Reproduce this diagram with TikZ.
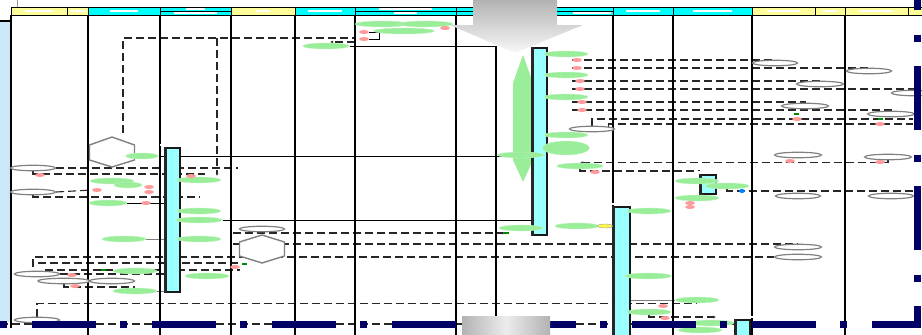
\documentclass[tikz,border=0pt]{standalone}
\usetikzlibrary{shapes.geometric,arrows.meta,backgrounds}

\definecolor{hdyellow}{HTML}{FFFF99}
\definecolor{hdcyan}{HTML}{00FFFF}
\definecolor{barcyan}{HTML}{99FFFF}
\definecolor{msggreen}{HTML}{9AEE9A}
\definecolor{tagpink}{HTML}{FF9A9A}
\definecolor{stripblue}{HTML}{CCE8F8}
\definecolor{navyband}{HTML}{000066}
\newcommand{\tinyf}{\fontsize{3.3pt}{3.6pt}\selectfont}

\begin{document}
\begin{tikzpicture}[x=1pt, y=-1pt,
    hy/.style={rectangle, draw, line width=0.9pt, fill=hdyellow, minimum height=8pt, inner sep=0pt},
    hc/.style={rectangle, draw, line width=0.9pt, fill=hdcyan, minimum height=8pt, inner sep=0pt},
    hl/.style={fill=white, inner sep=0.4pt, font=\tinyf, text=black!75},
    ntxt/.style={inner sep=0pt, font=\tinyf, text=black!65},
    lane/.style={draw, line width=1.1pt},
    msg/.style={ellipse, fill=msggreen, draw=msggreen!60!white, minimum width=44pt, minimum height=6pt, inner sep=0pt, font=\tinyf, text=black!65},
    note/.style={ellipse, draw=black!50, line width=1.2pt, fill=white, minimum width=45pt, minimum height=5.5pt, inner sep=0pt, font=\tinyf, text=black!65},
    tag/.style={ellipse, fill=tagpink, minimum width=10pt, minimum height=4pt, inner sep=0pt},
    flag/.style={rectangle, fill=green!55!black, minimum width=5pt, minimum height=2pt, inner sep=0pt},
    bar/.style={rectangle, draw=black!90, line width=1.5pt, fill=barcyan, minimum width=15pt, inner sep=0pt},
    call/.style={draw=black!85, dash pattern=on 8pt off 4pt, line width=1.1pt},
    line/.style={draw, line width=0.8pt},
    arr/.style={-{Latex[length=3pt,width=3pt]}},
    hexline/.style={draw=black!50, line width=1.4pt}
]
    \useasboundingbox (0,0) rectangle (922,335);
    \clip (0,0) rectangle (922,335);

    % left strip
    \fill[stripblue] (0,21) rectangle (10,322);
    \draw[line width=2pt] (0,21) -- (10,21);
    \draw[black!40, line width=1pt] (17,0) -- (17,7);

    % lanes
    \draw[lane] (11,15) -- (11,328);
    \draw[lane] (88,15) -- (88,335);
    \draw[lane] (160,15) -- (160,335);
    \draw[lane] (231,15) -- (231,335);
    \draw[lane] (295,15) -- (295,335);
    \draw[lane] (355,15) -- (355,335);
    \draw[lane] (456,15) -- (456,335);
    \draw[lane] (496,46) -- (496,335);
    \draw[lane] (613,15) -- (613,335);
    \draw[lane] (673,15) -- (673,335);
    \draw[lane] (752,15) -- (752,335);
    \draw[lane] (845,15) -- (845,335);

    % header
    \node[hy, minimum width=56pt] (hd1) at (39,11) {};
    \node[hl] (hl1) at (hd1) {· · · · · ·};
    \node[hy, minimum width=21pt] (hd2) at (77.5,11) {};
    \node[hl] (hl2) at (hd2) {· · ·};
    \node[hc, minimum width=72pt] (hd3) at (124,11) {};
    \node[hl] (hl3) at (hd3) {· · · · · ·};
    \node[hc, minimum width=71pt] (hd4) at (195.5,11) {};
    \draw[line] (hd4.west) -- (hd4.east);
    \node[hl] (hl4a) at (195.5,9) {· · · ·};
    \node[hl] (hl4b) at (195.5,13) {· · · · · · · · ·};
    \node[hy, minimum width=64pt] (hd5) at (263,11) {};
    \node[hl] (hl5) at (hd5) {· · ·};
    \node[hc, minimum width=60pt] (hd6) at (325,11) {};
    \node[hl] (hl6) at (hd6) {· · · · · · ·};
    \node[hc, minimum width=101pt] (hd7) at (405.5,11) {};
    \draw[line] (hd7.west) -- (hd7.east);
    \node[hl] (hl7a) at (405.5,9) {· · · · · · · · · · ·};
    \node[hl] (hl7b) at (405.5,13) {· · · · ·};
    \node[hc, minimum width=157pt] (hd8) at (534.5,11) {};
    \draw[line] (hd8.west) -- (hd8.east);
    \node[hl] (hl8) at (592,13) {· · · · · · · ·};
    \node[hc, minimum width=60pt] (hd9) at (643,11) {};
    \node[hl] (hl9) at (hd9) {· · · · · · ·};
    \node[hc, minimum width=79pt] (hd10) at (712.5,11) {};
    \node[hl] (hl10) at (hd10) {· · · · · · · ·};
    \node[hy, minimum width=63pt] (hd11) at (783.5,11) {};
    \node[hl] (hl11) at (hd11) {· · · · · · ·};
    \node[hy, minimum width=30pt] (hd12) at (830,11) {};
    \node[hl] (hl12) at (hd12) {· · ·};
    \node[hy, minimum width=63pt] (hd13) at (876.5,11) {};
    \node[hl] (hl13) at (hd13) {· · · · · · ·};
    \node[hy, minimum width=34pt] (hd14) at (925,11) {};

    % hexagons and the green double arrow
    \fill[white] (112,137) -- (134.5,145) -- (134.5,160) -- (112,167) -- (89.5,160) -- (89.5,145) -- cycle;
    \draw[hexline] (112,137) -- (134.5,145) -- (134.5,160) -- (112,167) -- (89.5,160) -- (89.5,145) -- cycle;
    \node[ntxt] (hx1) at (105,152) {· · · ·};
    \fill[white] (262,235) -- (284.5,242) -- (284.5,256) -- (262,263) -- (239.5,256) -- (239.5,242) -- cycle;
    \draw[hexline] (262,235) -- (284.5,242) -- (284.5,256) -- (262,263) -- (239.5,256) -- (239.5,242) -- cycle;
    \node[ntxt] (hx2) at (262,249) {· ·};
    \fill[msggreen] (523,55) -- (533,83) -- (533,160) -- (523,182) -- (513,160) -- (513,83) -- cycle;
    \node[ntxt] (va) at (523,118) {· · · ·};

    % activation bars
    \node[bar, minimum height=144pt] (b1) at (172.5,220) {};
    \fill[black!85] (b1.north west) rectangle ([xshift=3pt]b1.south west);
    \node[hl] (bl1) at (172,145) {· · · · ·};
    \node[bar, minimum height=187pt] (b2) at (539.5,141.5) {};
    \fill[black!85] (b2.north west) rectangle ([xshift=3pt]b2.south west);
    \node[hl] (bl2) at (540,45) {· · · · ·};
    \node[bar, minimum width=17pt, minimum height=140pt] (b3) at (621.5,277) {};
    \fill[black!85] (b3.north west) rectangle ([xshift=3pt]b3.south west);
    \node[hl] (bl3) at (621,204) {· · · · ·};
    \node[bar, minimum width=16pt, minimum height=19pt] (b4) at (708,184.5) {};
    \fill[black!85] (b4.north west) rectangle ([xshift=3pt]b4.south west);
    \node[hl] (bl4) at (708,172) {· · · · ·};
    \node[bar, minimum height=24pt] (b5) at (742.5,332) {};
    \fill[black!85] (b5.north west) rectangle ([xshift=3pt]b5.south west);
    \node[hl] (bl5) at (742,317) {· · · · ·};

    % messages
    \node[msg] (g1) at (382,24) {· · · · · · · ·};
    \node[msg] (g2) at (426,24) {· · · · · · · ·};
    \node[msg] (g3) at (404,31) {· · · · · · · · ·};
    \node[msg] (g4) at (326,46) {· · · · · · ·};
    \node[msg, minimum width=32pt] (g5) at (142,156) {· · · · ·};
    \node[msg] (g6) at (112,181) {· · · · · ·};
    \node[msg, minimum width=28pt] (g7) at (128,185) {· · · ·};
    \node[msg, minimum width=38pt] (g8) at (108,203) {· · · · ·};
    \node[msg] (g9) at (124,239) {· · · · · ·};
    \node[msg] (g10) at (135,271) {· · · ·};
    \node[msg] (g11) at (135,291) {· · · · · ·};
    \node[msg] (g12) at (199,180) {· · · · · ·};
    \node[msg] (g13) at (199,211) {· · · · · ·};
    \node[msg] (g14) at (199,220) {· · · · · · ·};
    \node[msg] (g15) at (199,239) {· · · · · ·};
    \node[msg] (g16) at (207,276) {· · · · · ·};
    \node[msg] (g17) at (521,228) {· · · ·};
    \node[msg] (g18) at (521,155) {· · · · · · ·};
    \node[msg] (g19) at (566,54) {· · · · · ·};
    \node[msg] (g20) at (566,75) {· · · · · ·};
    \node[msg] (g21) at (566,97) {· · · · · ·};
    \node[msg] (g22) at (566,135) {· · · · · ·};
    \node[msg, minimum height=14pt] (g23) at (566,148) {· · · · · · ·};
    \node[msg] (g24) at (580,166) {· · · · · · ·};
    \node[msg] (g25) at (577,226) {· · · ·};
    \node[msg] (g26) at (697,181) {· · · · · ·};
    \node[msg] (g27) at (727,186) {· · ·};
    \node[msg] (g28) at (697,198) {· · · ·};
    \node[msg] (g29) at (649,211) {· · · · · ·};
    \node[msg] (g30) at (648,276) {· · · · · · ·};
    \node[msg] (g31) at (697,300) {· · · · · ·};
    \node[msg] (g32) at (649,312) {· · · · · ·};
    \node[msg] (g33) at (712,323) {· · · ·};
    \node[msg] (g34) at (700,330) {· · · ·};

    % notes
    \node[note] (c1) at (33,168) {· · · · · ·};
    \node[note] (c2) at (33,192) {· · ·};
    \node[note] (c3) at (37,274) {· · · ·};
    \node[note, minimum width=52pt] (c4) at (64,281) {· · ·};
    \node[note] (c5) at (112,281) {· · ·};
    \node[note] (c6) at (37,320) {· · ·};
    \node[note] (c7) at (262,229) {· · · ·};
    \node[note] (c8) at (592,129) {· · ·};
    \node[note] (c9) at (775,63) {· · · · · ·};
    \node[note] (c10) at (869,71) {· · · · · ·};
    \node[note] (c11) at (820,84) {· · · · · · ·};
    \node[note] (c12) at (914,93) {· · · ·};
    \node[note] (c13) at (805,106) {· · · · · · ·};
    \node[note] (c14) at (891,114) {· · · · · · ·};
    \node[note] (c15) at (798,155) {· · · · · · ·};
    \node[note] (c16) at (888,157) {· · · · · · ·};
    \node[note] (c17) at (798,196) {· · · · · ·};
    \node[note] (c18) at (891,196) {· · · · · ·};
    \node[note] (c19) at (798,247) {· · · · · · ·};
    \node[note] (c20) at (798,257) {· · · · · · ·};

    % tags
    \node[tag] (p1) at (364,32) {};
    \node[tag] (p2) at (364,39) {};
    \node[tag] (p3) at (445,28) {};
    \node[tag] (p4) at (40,175) {};
    \node[tag] (p5) at (97,190) {};
    \node[tag] (p6) at (149,187) {};
    \node[tag] (p7) at (149,192) {};
    \node[tag] (p8) at (146,203) {};
    \node[tag] (p9) at (191,176) {};
    \node[tag] (p10) at (72,275) {};
    \node[tag] (p11) at (75,286) {};
    \node[tag] (p12) at (577,60) {};
    \node[tag] (p13) at (577,68) {};
    \node[tag] (p14) at (580,81) {};
    \node[tag] (p15) at (580,89) {};
    \node[tag] (p16) at (582,102) {};
    \node[tag] (p17) at (582,110) {};
    \node[tag] (p18) at (595,172) {};
    \node[tag] (p19) at (690,203) {};
    \node[tag] (p20) at (690,207) {};
    \node[tag] (p21) at (663,306) {};
    \node[tag] (p22) at (665,318) {};
    \node[tag] (p23) at (797,119) {};
    \node[tag] (p24) at (880,124) {};
    \node[tag] (p25) at (790,161) {};
    \node[tag] (p26) at (880,162) {};
    \node[tag] (p27) at (235,267) {};
    \node[ellipse, fill=yellow!70, draw=black!40, minimum width=15pt, minimum height=4pt, inner sep=0pt] (y1) at (605,226) {};
    \node[ellipse, fill=blue!50!cyan, minimum width=6pt, minimum height=4pt, inner sep=0pt] (q1) at (742,191) {};
    \node[flag] (f1) at (796,114) {};
    \node[flag] (f2) at (880,119) {};
    \node[flag] (f3) at (244,264) {};
    \node[flag] (f4) at (506,233) {};
    \node[flag] (f5) at (103,270) {};

    % dotted captions
    \node[ntxt] (t1) at (588,63) {· · · · · · · · · · · ·};
    \node[ntxt] (t2) at (588,71) {· · · · · · · · · · · ·};
    \node[ntxt] (t3) at (592,84) {· · · · · · · · · · · ·};
    \node[ntxt] (t4) at (592,93) {· · · · · · · · · · · ·};
    \node[ntxt] (t5) at (594,105) {· · · · · · · · · · · ·};
    \node[ntxt] (t6) at (594,114) {· · · · · · · · · · · ·};
    \node[ntxt] (t7) at (40,180) {· · · · ·};
    \node[ntxt] (t8) at (40,200) {· · · ·};
    \node[ntxt] (t9) at (80,291) {· · · · · · · ·};
    \node[ntxt] (t10) at (148,197) {· · · · · · · · · ·};
    \node[ntxt] (t11) at (405,35) {· · · · · · · · · · ·};
    \node[ntxt] (t12) at (800,124) {· · · · ·};
    \node[ntxt] (t13) at (880,129) {· · · · ·};

    % connectors
    \begin{scope}[on background layer]
        \coordinate (k1) at (123,133);
        \coordinate (k2) at (355,38);
        \coordinate (k3) at (217,38);
        \coordinate (k4) at (217,176);
        \draw[call] (k1) |- (k2);
        \draw[call, arr] (k3) -- (k4);
        \coordinate (k5) at (355,42);
        \coordinate (k6) at (330,42);
        \draw[call, arr] (k5) -- (k6);
        \coordinate (k7) at (496,46);
        \draw[line] (g4.east) -- (k7);
        \draw[line] (p1.east) -- ++(10,0) |- (p2.east);

        \coordinate (k8) at (238,168);
        \draw[call] (c1.east) -- (k8);
        \coordinate (k9) at (205,174);
        \draw[call] (c1.south) |- (k9);
        \draw[call] (c2.east) -- (p5.west);
        \coordinate (k10) at (200,197);
        \draw[call] (c2.south) |- (k10);
        \draw[line] (g5.east) -- (g5.east -| b1.west);
        \draw[line] (g8.east) -- (g8.east -| b1.west);
        \draw[line, black!50] (g9.east) -- (g9.east -| b1.west);
        \draw[line, black!50] (g11.east) -- (g11.east -| b1.west);
        \draw[line] (b1.east |- g5) -- (b2.west |- g5);
        \draw[line] (g14.east) -- (g14.east -| b2.west);

        \coordinate (k11) at (233,233);
        \coordinate (k12) at (505,233);
        \draw[call, arr] (k11) -- (k12);
        \coordinate (k13) at (233,244);
        \draw[call] (k13) -| (c19.north);
        \coordinate (k14) at (33,267);
        \draw[call] (k14) |- (c20.west);
        \coordinate (k15) at (38,263);
        \coordinate (k16) at (240,263);
        \draw[call] (k15) -- (k16);
        \coordinate (k17) at (45,270);
        \coordinate (k18) at (240,270);
        \draw[call] (k17) -- (k18);
        \coordinate (k32) at (165,274);
        \draw[call] (c3.east) -- (k32);
        \coordinate (k33) at (135,287);
        \draw[call] (c4.south) |- (k33);
        \draw[call] (c6.north) |- (g31.south);
        \coordinate (k19) at (716,317);
        \draw[call, arr] (g32.south) |- (k19);
        \draw[line, black!50] (g31.west -| b3.east) -- (g31.west);
        \coordinate (k20) at (0,324);
        \coordinate (k21) at (735,324);
        \draw[call] (k20) -- (k21);

        \coordinate (k22) at (572,60);
        \draw[call] (k22) -| (c9.north);
        \coordinate (k23) at (572,68);
        \draw[call] (k23) -| (c10.north);
        \coordinate (k24) at (572,81);
        \draw[call] (k24) -| (c11.north);
        \coordinate (k25) at (572,89);
        \draw[call] (k25) -| (c12.north);
        \coordinate (k26) at (572,102);
        \draw[call] (k26) -| (c13.north);
        \coordinate (k27) at (572,110);
        \draw[call] (k27) -| (c14.north);
        \coordinate (k28) at (913,119);
        \draw[call] (c8.north) |- (k28);
        \coordinate (k29) at (913,124);
        \draw[call] (c8.north east) |- (k29);
        \draw[call, arr] (c16.south) |- (g24.north);
        \coordinate (k30) at (700,171);
        \draw[call] (g24.south) |- (k30);
        \coordinate (k31) at (913,191);
        \draw[call] (g27.south) |- (k31);
    \end{scope}

    % big gray arrows and the frame
    \shade[top color=gray!60, bottom color=gray!5] (473,0) -- (557,0) -- (557,25) -- (583,25) -- (515,53) -- (450,25) -- (473,25) -- cycle;
    \draw[navyband, line width=7.5pt, dash pattern=on 7pt off 25pt on 64pt off 24pt] (0,324.5) -| (917.5,-10);
    \shade[left color=gray!60, right color=gray!60, middle color=gray!15] (462,316) rectangle (550,335);
\end{tikzpicture}
\end{document}
